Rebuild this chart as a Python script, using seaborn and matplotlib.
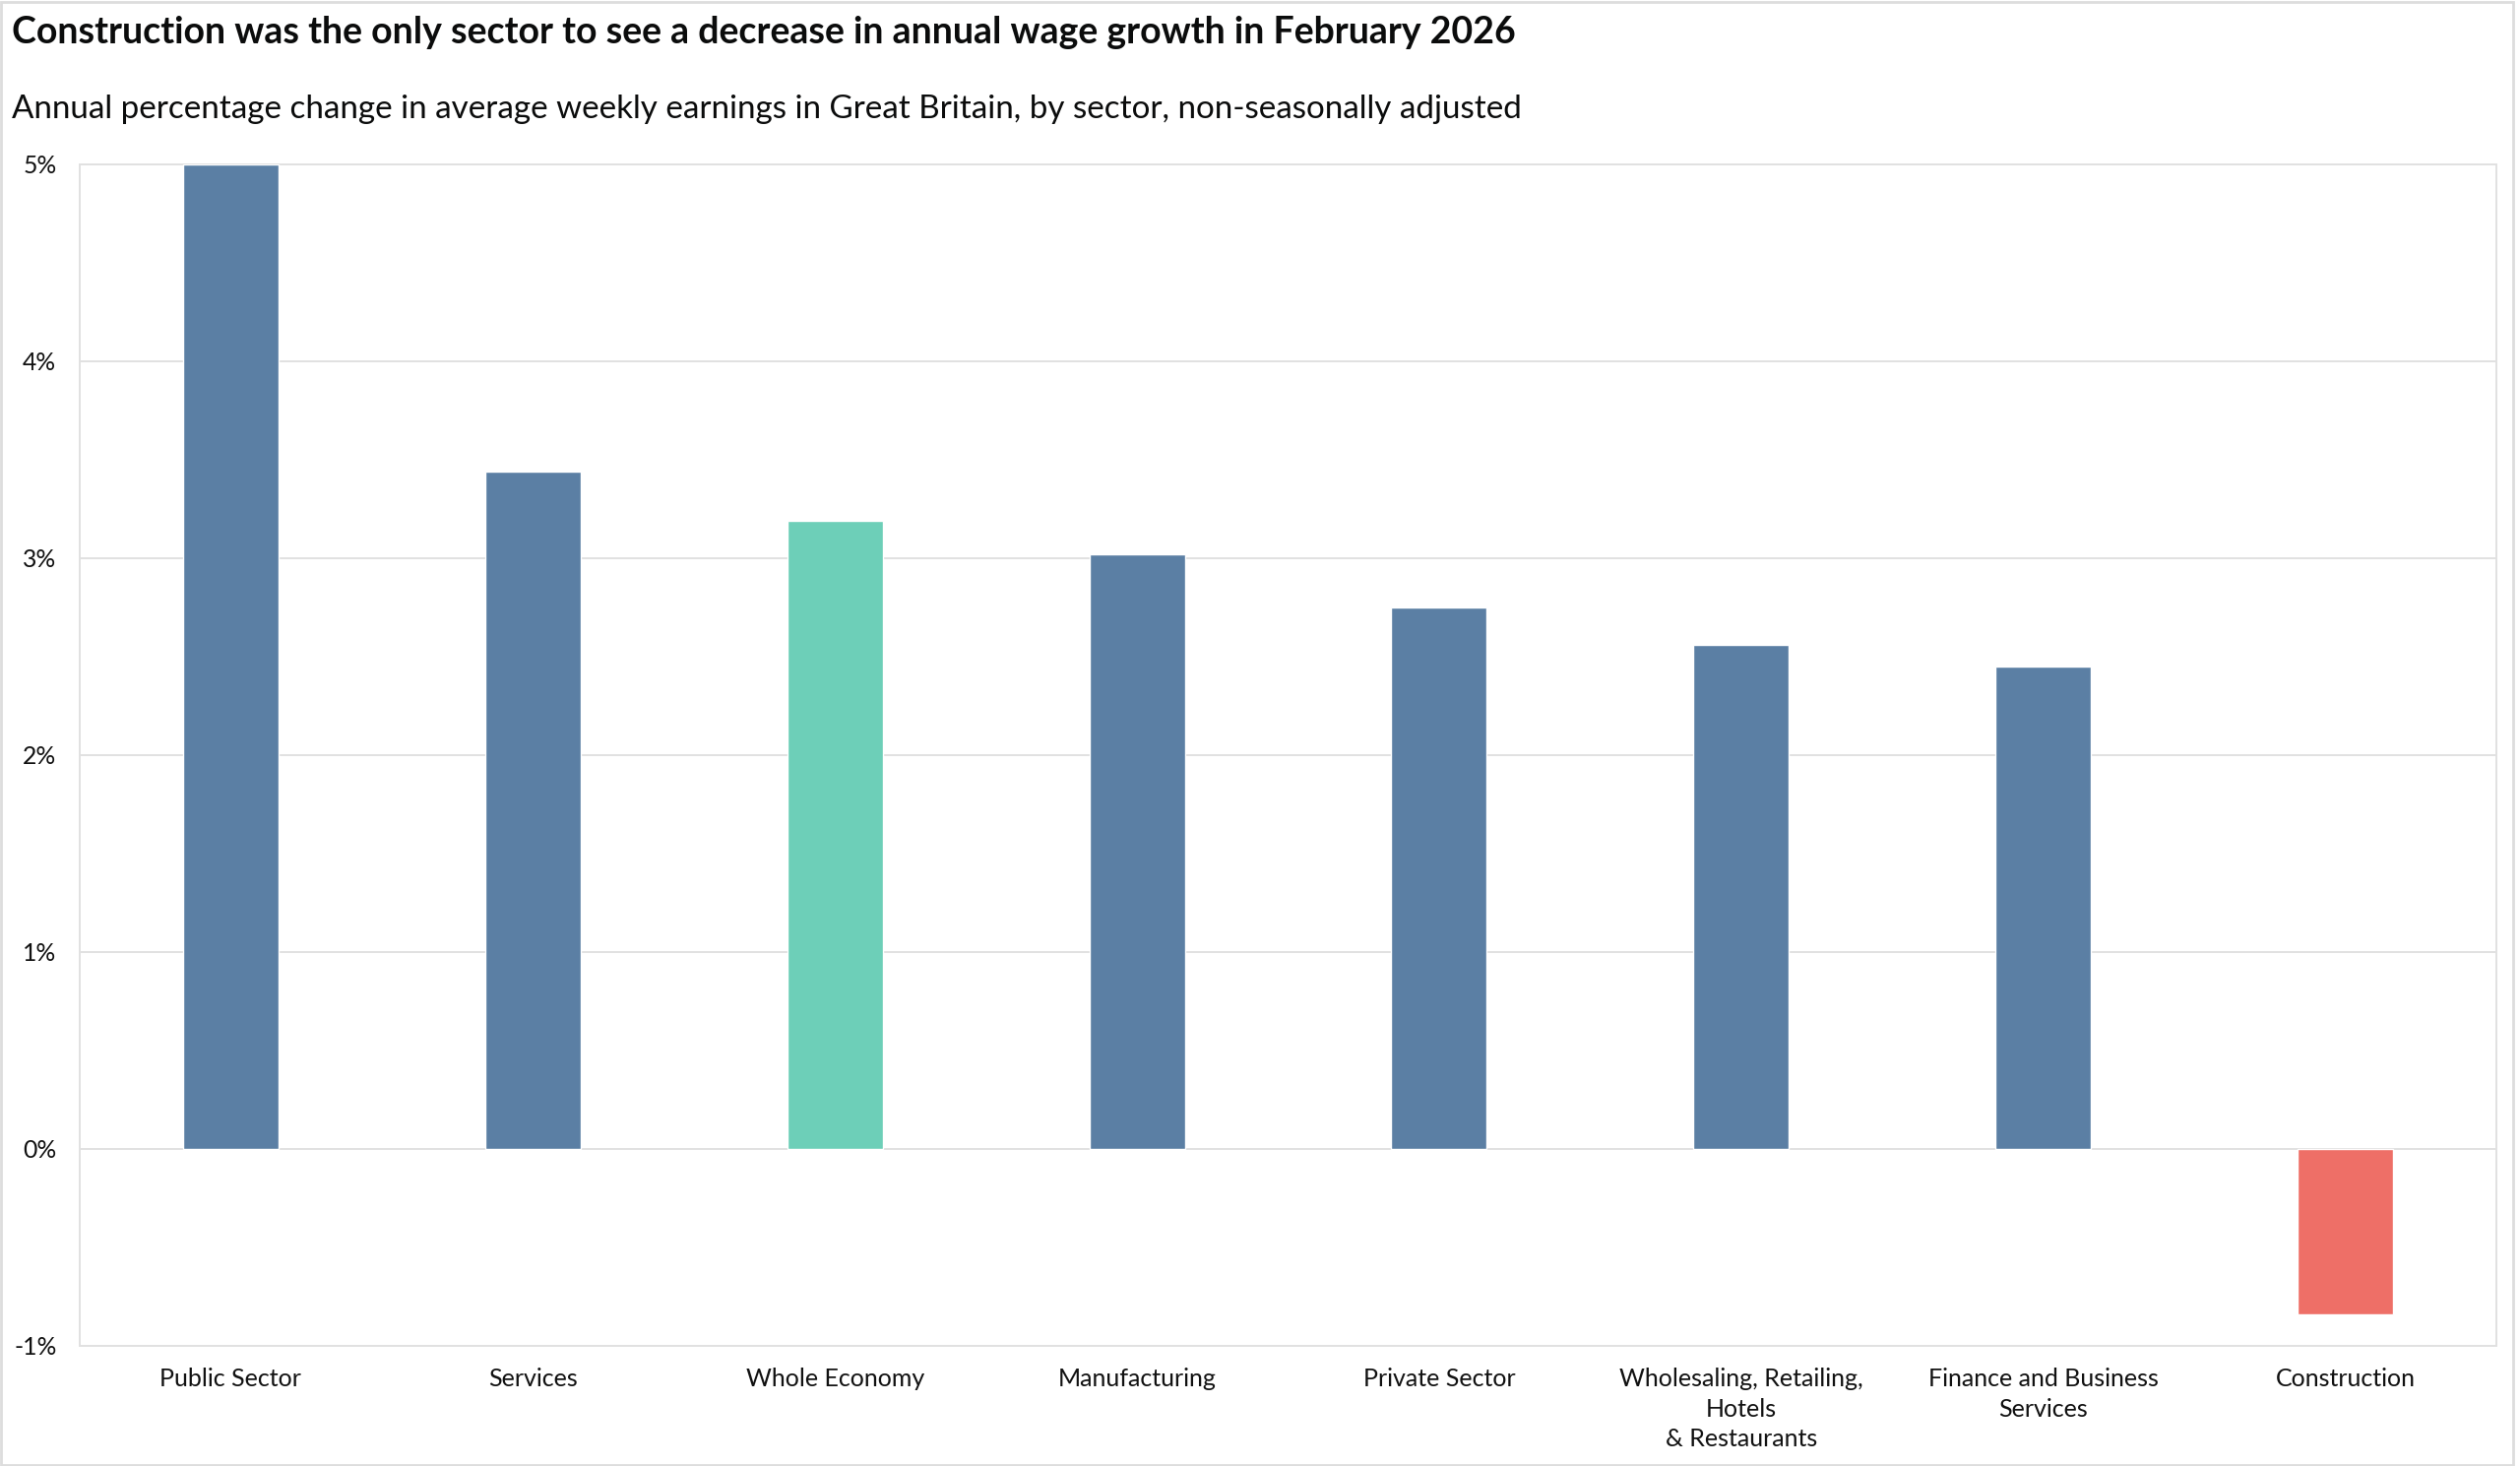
import matplotlib
matplotlib.use("Agg")
import matplotlib.pyplot as plt
import seaborn as sns
import pandas as pd
from matplotlib.patches import Rectangle
from matplotlib.ticker import FuncFormatter

categories = ["Public Sector", "Services", "Whole Economy", "Manufacturing",
              "Private Sector", "Wholesaling, Retailing,\nHotels\n& Restaurants",
              "Finance and Business\nServices", "Construction"]
values = [5.0, 3.44, 3.19, 3.02, 2.75, 2.56, 2.45, -0.84]
bar_colors = ["#5B7FA4", "#5B7FA4", "#6DCFB8", "#5B7FA4",
              "#5B7FA4", "#5B7FA4", "#5B7FA4", "#EE6F67"]
y_ticks = [-1, 0, 1, 2, 3, 4, 5]

title = "Construction was the only sector to see a decrease in annual wage growth in February 2026"
subtitle = "Annual percentage change in average weekly earnings in Great Britain, by sector, non-seasonally adjusted"

sns.set_theme(style="white")
plt.rcParams['font.family'] = ['Lato', 'DejaVu Sans']

df = pd.DataFrame({"sector": categories, "value": values})

W, H = 2560, 1489
fig = plt.figure(figsize=(W / 100, H / 100), dpi=100)
ax = fig.add_axes([81 / W, 1 - 1366.7 / H, (2536 - 81) / W, (1366.7 - 166.7) / H])

sns.barplot(data=df, x="sector", y="value", hue="sector", palette=bar_colors,
            width=0.316, legend=False, ax=ax, saturation=1, zorder=3)

ax.set_ylim(-1, 5)
ax.set_xlim(-0.5, len(categories) - 0.5)
ax.set_yticks(y_ticks)
ax.yaxis.set_major_formatter(FuncFormatter(lambda v, p: f"{int(round(v))}%"))
ax.grid(axis="y", color="#e1e1e1", linewidth=1.4, zorder=0)
ax.grid(axis="x", visible=False)
ax.set_xlabel("")
ax.set_ylabel("")
ax.tick_params(axis="y", length=0, pad=17, labelsize=17.8, labelcolor="#111111")
ax.tick_params(axis="x", length=0, pad=16, labelsize=18, labelcolor="#111111")
for lbl in ax.get_xticklabels():
    lbl.set_linespacing(1.40)
for s in ax.spines.values():
    s.set_color("#e1e1e1")
    s.set_linewidth(1.4)

fig.text(12 / W, 1 - 44 / H, title, fontsize=27, fontweight="bold",
         va="baseline", ha="left", color="#0b0c0c")
fig.text(12 / W, 1 - 120 / H, subtitle, fontsize=23.9,
         va="baseline", ha="left", color="#0b0c0c")

fig.patches.append(Rectangle((1 / W, 1 / H), 2552 / W, 1486 / H, transform=fig.transFigure,
                             fill=False, edgecolor="#dddddd", linewidth=2))

fig.savefig("out.png", dpi=100, facecolor="white")
